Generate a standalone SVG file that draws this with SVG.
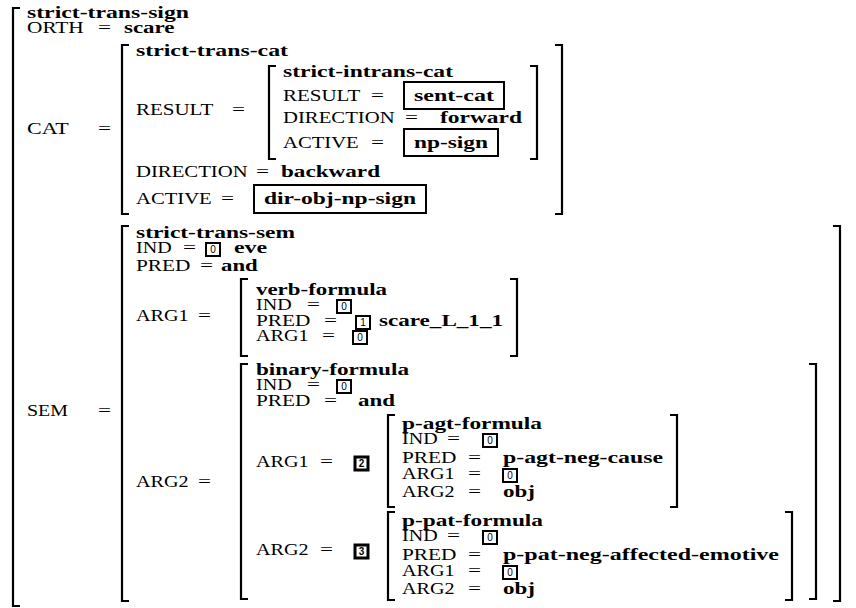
<svg xmlns="http://www.w3.org/2000/svg" width="856" height="608" viewBox="0 0 856 608">
<style>
text{fill:#000}
.r{font-family:"Liberation Serif","Times New Roman",serif;font-size:17px}
.b{font-family:"Liberation Serif","Times New Roman",serif;font-size:17px;font-weight:bold}
.eq{font-family:"Liberation Serif","Times New Roman",serif;font-size:17px}
.br{fill:none;stroke:#000;stroke-width:2.2}
.vb{fill:none;stroke:#000;stroke-width:2}
.tb{fill:#fff;stroke:#000;stroke-width:2}
.tb2{fill:#fff;stroke:#000;stroke-width:3}
.tn{font-family:"Liberation Sans",Arial,sans-serif;font-size:10px;text-anchor:middle}
.tn2{font-family:"Liberation Sans",Arial,sans-serif;font-size:10px;font-weight:bold;text-anchor:middle}
</style>

<g id="strict-trans-sign">
<path class="br" d="M20 8 H13 V606 H20"/>
<text class="b" x="27" y="18" textLength="162" lengthAdjust="spacingAndGlyphs">strict-trans-sign</text>
<text class="r" x="27" y="33" textLength="56.7" lengthAdjust="spacingAndGlyphs">ORTH</text>
<text class="eq" x="98" y="33" textLength="13" lengthAdjust="spacingAndGlyphs">=</text>
<text class="b" x="124" y="33" textLength="50.5" lengthAdjust="spacingAndGlyphs">scare</text>
<text class="r" x="27" y="134" textLength="41.7" lengthAdjust="spacingAndGlyphs">CAT</text>
<text class="eq" x="98" y="134" textLength="13" lengthAdjust="spacingAndGlyphs">=</text>
<text class="r" x="27" y="416" textLength="40.9" lengthAdjust="spacingAndGlyphs">SEM</text>
<text class="eq" x="98" y="416" textLength="13" lengthAdjust="spacingAndGlyphs">=</text>
</g>

<g id="strict-trans-cat">
<path class="br" d="M129 45 H122 V214 H129"/>
<path class="br" d="M555 45 H562 V214 H555"/>
<text class="b" x="136" y="56" textLength="152" lengthAdjust="spacingAndGlyphs">strict-trans-cat</text>
<text class="r" x="136" y="115" textLength="77.3" lengthAdjust="spacingAndGlyphs">RESULT</text>
<text class="eq" x="232" y="115" textLength="13" lengthAdjust="spacingAndGlyphs">=</text>
<text class="r" x="136" y="177" textLength="111.6" lengthAdjust="spacingAndGlyphs">DIRECTION</text>
<text class="eq" x="256" y="177" textLength="13" lengthAdjust="spacingAndGlyphs">=</text>
<text class="b" x="281" y="177" textLength="99" lengthAdjust="spacingAndGlyphs">backward</text>
<text class="r" x="136" y="204" textLength="75.7" lengthAdjust="spacingAndGlyphs">ACTIVE</text>
<text class="eq" x="221" y="204" textLength="13" lengthAdjust="spacingAndGlyphs">=</text>
<rect class="vb" x="254" y="185" width="172" height="28"/>
<text class="b" x="264" y="204" textLength="152" lengthAdjust="spacingAndGlyphs">dir-obj-np-sign</text>
</g>

<g id="strict-intrans-cat">
<path class="br" d="M276 66 H269 V159 H276"/>
<path class="br" d="M530 66 H537 V159 H530"/>
<text class="b" x="283" y="77" textLength="170" lengthAdjust="spacingAndGlyphs">strict-intrans-cat</text>
<text class="r" x="283" y="101" textLength="77.3" lengthAdjust="spacingAndGlyphs">RESULT</text>
<text class="eq" x="371" y="101" textLength="13" lengthAdjust="spacingAndGlyphs">=</text>
<rect class="vb" x="404" y="82" width="100" height="27"/>
<text class="b" x="414" y="101" textLength="80" lengthAdjust="spacingAndGlyphs">sent-cat</text>
<text class="r" x="283" y="123" textLength="111.6" lengthAdjust="spacingAndGlyphs">DIRECTION</text>
<text class="eq" x="405" y="123" textLength="13" lengthAdjust="spacingAndGlyphs">=</text>
<text class="b" x="440" y="123" textLength="82" lengthAdjust="spacingAndGlyphs">forward</text>
<text class="r" x="283" y="148" textLength="75.7" lengthAdjust="spacingAndGlyphs">ACTIVE</text>
<text class="eq" x="371" y="148" textLength="13" lengthAdjust="spacingAndGlyphs">=</text>
<rect class="vb" x="404" y="129" width="94" height="27"/>
<text class="b" x="414" y="148" textLength="74" lengthAdjust="spacingAndGlyphs">np-sign</text>
</g>

<g id="strict-trans-sem">
<path class="br" d="M129 226 H122 V601 H129"/>
<path class="br" d="M833 226 H840 V601 H833"/>
<text class="b" x="136" y="238" textLength="159" lengthAdjust="spacingAndGlyphs">strict-trans-sem</text>
<text class="r" x="136" y="253" textLength="35.6" lengthAdjust="spacingAndGlyphs">IND</text>
<text class="eq" x="183" y="253" textLength="13" lengthAdjust="spacingAndGlyphs">=</text>
<rect class="tb" x="206" y="243" width="14" height="13"/><text class="tn" x="213" y="253">0</text>
<text class="b" x="234" y="253" textLength="33.2" lengthAdjust="spacingAndGlyphs">eve</text>
<text class="r" x="136" y="271" textLength="54.4" lengthAdjust="spacingAndGlyphs">PRED</text>
<text class="eq" x="200" y="271" textLength="13" lengthAdjust="spacingAndGlyphs">=</text>
<text class="b" x="221" y="271" textLength="36.7" lengthAdjust="spacingAndGlyphs">and</text>
<text class="r" x="136" y="321" textLength="52.6" lengthAdjust="spacingAndGlyphs">ARG1</text>
<text class="eq" x="198" y="321" textLength="13" lengthAdjust="spacingAndGlyphs">=</text>
<text class="r" x="136" y="487" textLength="52.6" lengthAdjust="spacingAndGlyphs">ARG2</text>
<text class="eq" x="198" y="487" textLength="13" lengthAdjust="spacingAndGlyphs">=</text>
</g>

<g id="verb-formula">
<path class="br" d="M248 279 H241 V356 H248"/>
<path class="br" d="M510 279 H517 V356 H510"/>
<text class="b" x="256" y="295" textLength="131" lengthAdjust="spacingAndGlyphs">verb-formula</text>
<text class="r" x="256" y="310" textLength="35.6" lengthAdjust="spacingAndGlyphs">IND</text>
<text class="eq" x="307" y="310" textLength="13" lengthAdjust="spacingAndGlyphs">=</text>
<rect class="tb" x="337" y="300" width="14" height="13"/><text class="tn" x="344" y="310">0</text>
<text class="r" x="256" y="326" textLength="54.4" lengthAdjust="spacingAndGlyphs">PRED</text>
<text class="eq" x="324" y="326" textLength="13" lengthAdjust="spacingAndGlyphs">=</text>
<rect class="tb" x="356" y="316" width="14" height="13"/><text class="tn" x="363" y="326">1</text>
<text class="b" x="379" y="326" textLength="124" lengthAdjust="spacingAndGlyphs">scare_L_1_1</text>
<text class="r" x="256" y="341" textLength="52.6" lengthAdjust="spacingAndGlyphs">ARG1</text>
<text class="eq" x="322" y="341" textLength="13" lengthAdjust="spacingAndGlyphs">=</text>
<rect class="tb" x="353" y="331" width="14" height="13"/><text class="tn" x="360" y="341">0</text>
</g>

<g id="binary-formula">
<path class="br" d="M248 364 H241 V599 H248"/>
<path class="br" d="M809 364 H816 V599 H809"/>
<text class="b" x="256" y="375" textLength="153" lengthAdjust="spacingAndGlyphs">binary-formula</text>
<text class="r" x="256" y="390" textLength="35.6" lengthAdjust="spacingAndGlyphs">IND</text>
<text class="eq" x="307" y="390" textLength="13" lengthAdjust="spacingAndGlyphs">=</text>
<rect class="tb" x="337" y="380" width="14" height="13"/><text class="tn" x="344" y="390">0</text>
<text class="r" x="256" y="406" textLength="54.4" lengthAdjust="spacingAndGlyphs">PRED</text>
<text class="eq" x="324" y="406" textLength="13" lengthAdjust="spacingAndGlyphs">=</text>
<text class="b" x="358" y="406" textLength="37" lengthAdjust="spacingAndGlyphs">and</text>
<text class="r" x="256" y="467" textLength="52.6" lengthAdjust="spacingAndGlyphs">ARG1</text>
<text class="eq" x="320" y="467" textLength="13" lengthAdjust="spacingAndGlyphs">=</text>
<rect class="tb2" x="355" y="457" width="13" height="13"/><text class="tn2" x="361.5" y="467">2</text>
<text class="r" x="256" y="555" textLength="52.6" lengthAdjust="spacingAndGlyphs">ARG2</text>
<text class="eq" x="320" y="555" textLength="13" lengthAdjust="spacingAndGlyphs">=</text>
<rect class="tb2" x="355" y="545" width="13" height="13"/><text class="tn2" x="361.5" y="555">3</text>
</g>

<g id="p-agt-formula">
<path class="br" d="M395 415 H388 V507 H395"/>
<path class="br" d="M670 415 H677 V507 H670"/>
<text class="b" x="402" y="429" textLength="140" lengthAdjust="spacingAndGlyphs">p-agt-formula</text>
<text class="r" x="402" y="444" textLength="35.6" lengthAdjust="spacingAndGlyphs">IND</text>
<text class="eq" x="447" y="444" textLength="13" lengthAdjust="spacingAndGlyphs">=</text>
<rect class="tb" x="483" y="434" width="14" height="13"/><text class="tn" x="490" y="444">0</text>
<text class="r" x="402" y="463" textLength="54.4" lengthAdjust="spacingAndGlyphs">PRED</text>
<text class="eq" x="468" y="463" textLength="13" lengthAdjust="spacingAndGlyphs">=</text>
<text class="b" x="503" y="463" textLength="160" lengthAdjust="spacingAndGlyphs">p-agt-neg-cause</text>
<text class="r" x="402" y="479" textLength="52.6" lengthAdjust="spacingAndGlyphs">ARG1</text>
<text class="eq" x="468" y="479" textLength="13" lengthAdjust="spacingAndGlyphs">=</text>
<rect class="tb" x="503" y="469" width="14" height="13"/><text class="tn" x="510" y="479">0</text>
<text class="r" x="402" y="497" textLength="52.6" lengthAdjust="spacingAndGlyphs">ARG2</text>
<text class="eq" x="468" y="497" textLength="13" lengthAdjust="spacingAndGlyphs">=</text>
<text class="b" x="503" y="497" textLength="32" lengthAdjust="spacingAndGlyphs">obj</text>
</g>

<g id="p-pat-formula">
<path class="br" d="M395 512 H388 V600 H395"/>
<path class="br" d="M785 512 H792 V600 H785"/>
<text class="b" x="402" y="526" textLength="141" lengthAdjust="spacingAndGlyphs">p-pat-formula</text>
<text class="r" x="402" y="541" textLength="35.6" lengthAdjust="spacingAndGlyphs">IND</text>
<text class="eq" x="447" y="541" textLength="13" lengthAdjust="spacingAndGlyphs">=</text>
<rect class="tb" x="483" y="531" width="14" height="13"/><text class="tn" x="490" y="541">0</text>
<text class="r" x="402" y="560" textLength="54.4" lengthAdjust="spacingAndGlyphs">PRED</text>
<text class="eq" x="468" y="560" textLength="13" lengthAdjust="spacingAndGlyphs">=</text>
<text class="b" x="503" y="560" textLength="276" lengthAdjust="spacingAndGlyphs">p-pat-neg-affected-emotive</text>
<text class="r" x="402" y="576" textLength="52.6" lengthAdjust="spacingAndGlyphs">ARG1</text>
<text class="eq" x="468" y="576" textLength="13" lengthAdjust="spacingAndGlyphs">=</text>
<rect class="tb" x="503" y="566" width="14" height="13"/><text class="tn" x="510" y="576">0</text>
<text class="r" x="402" y="594" textLength="52.6" lengthAdjust="spacingAndGlyphs">ARG2</text>
<text class="eq" x="468" y="594" textLength="13" lengthAdjust="spacingAndGlyphs">=</text>
<text class="b" x="503" y="594" textLength="32" lengthAdjust="spacingAndGlyphs">obj</text>
</g>
</svg>
